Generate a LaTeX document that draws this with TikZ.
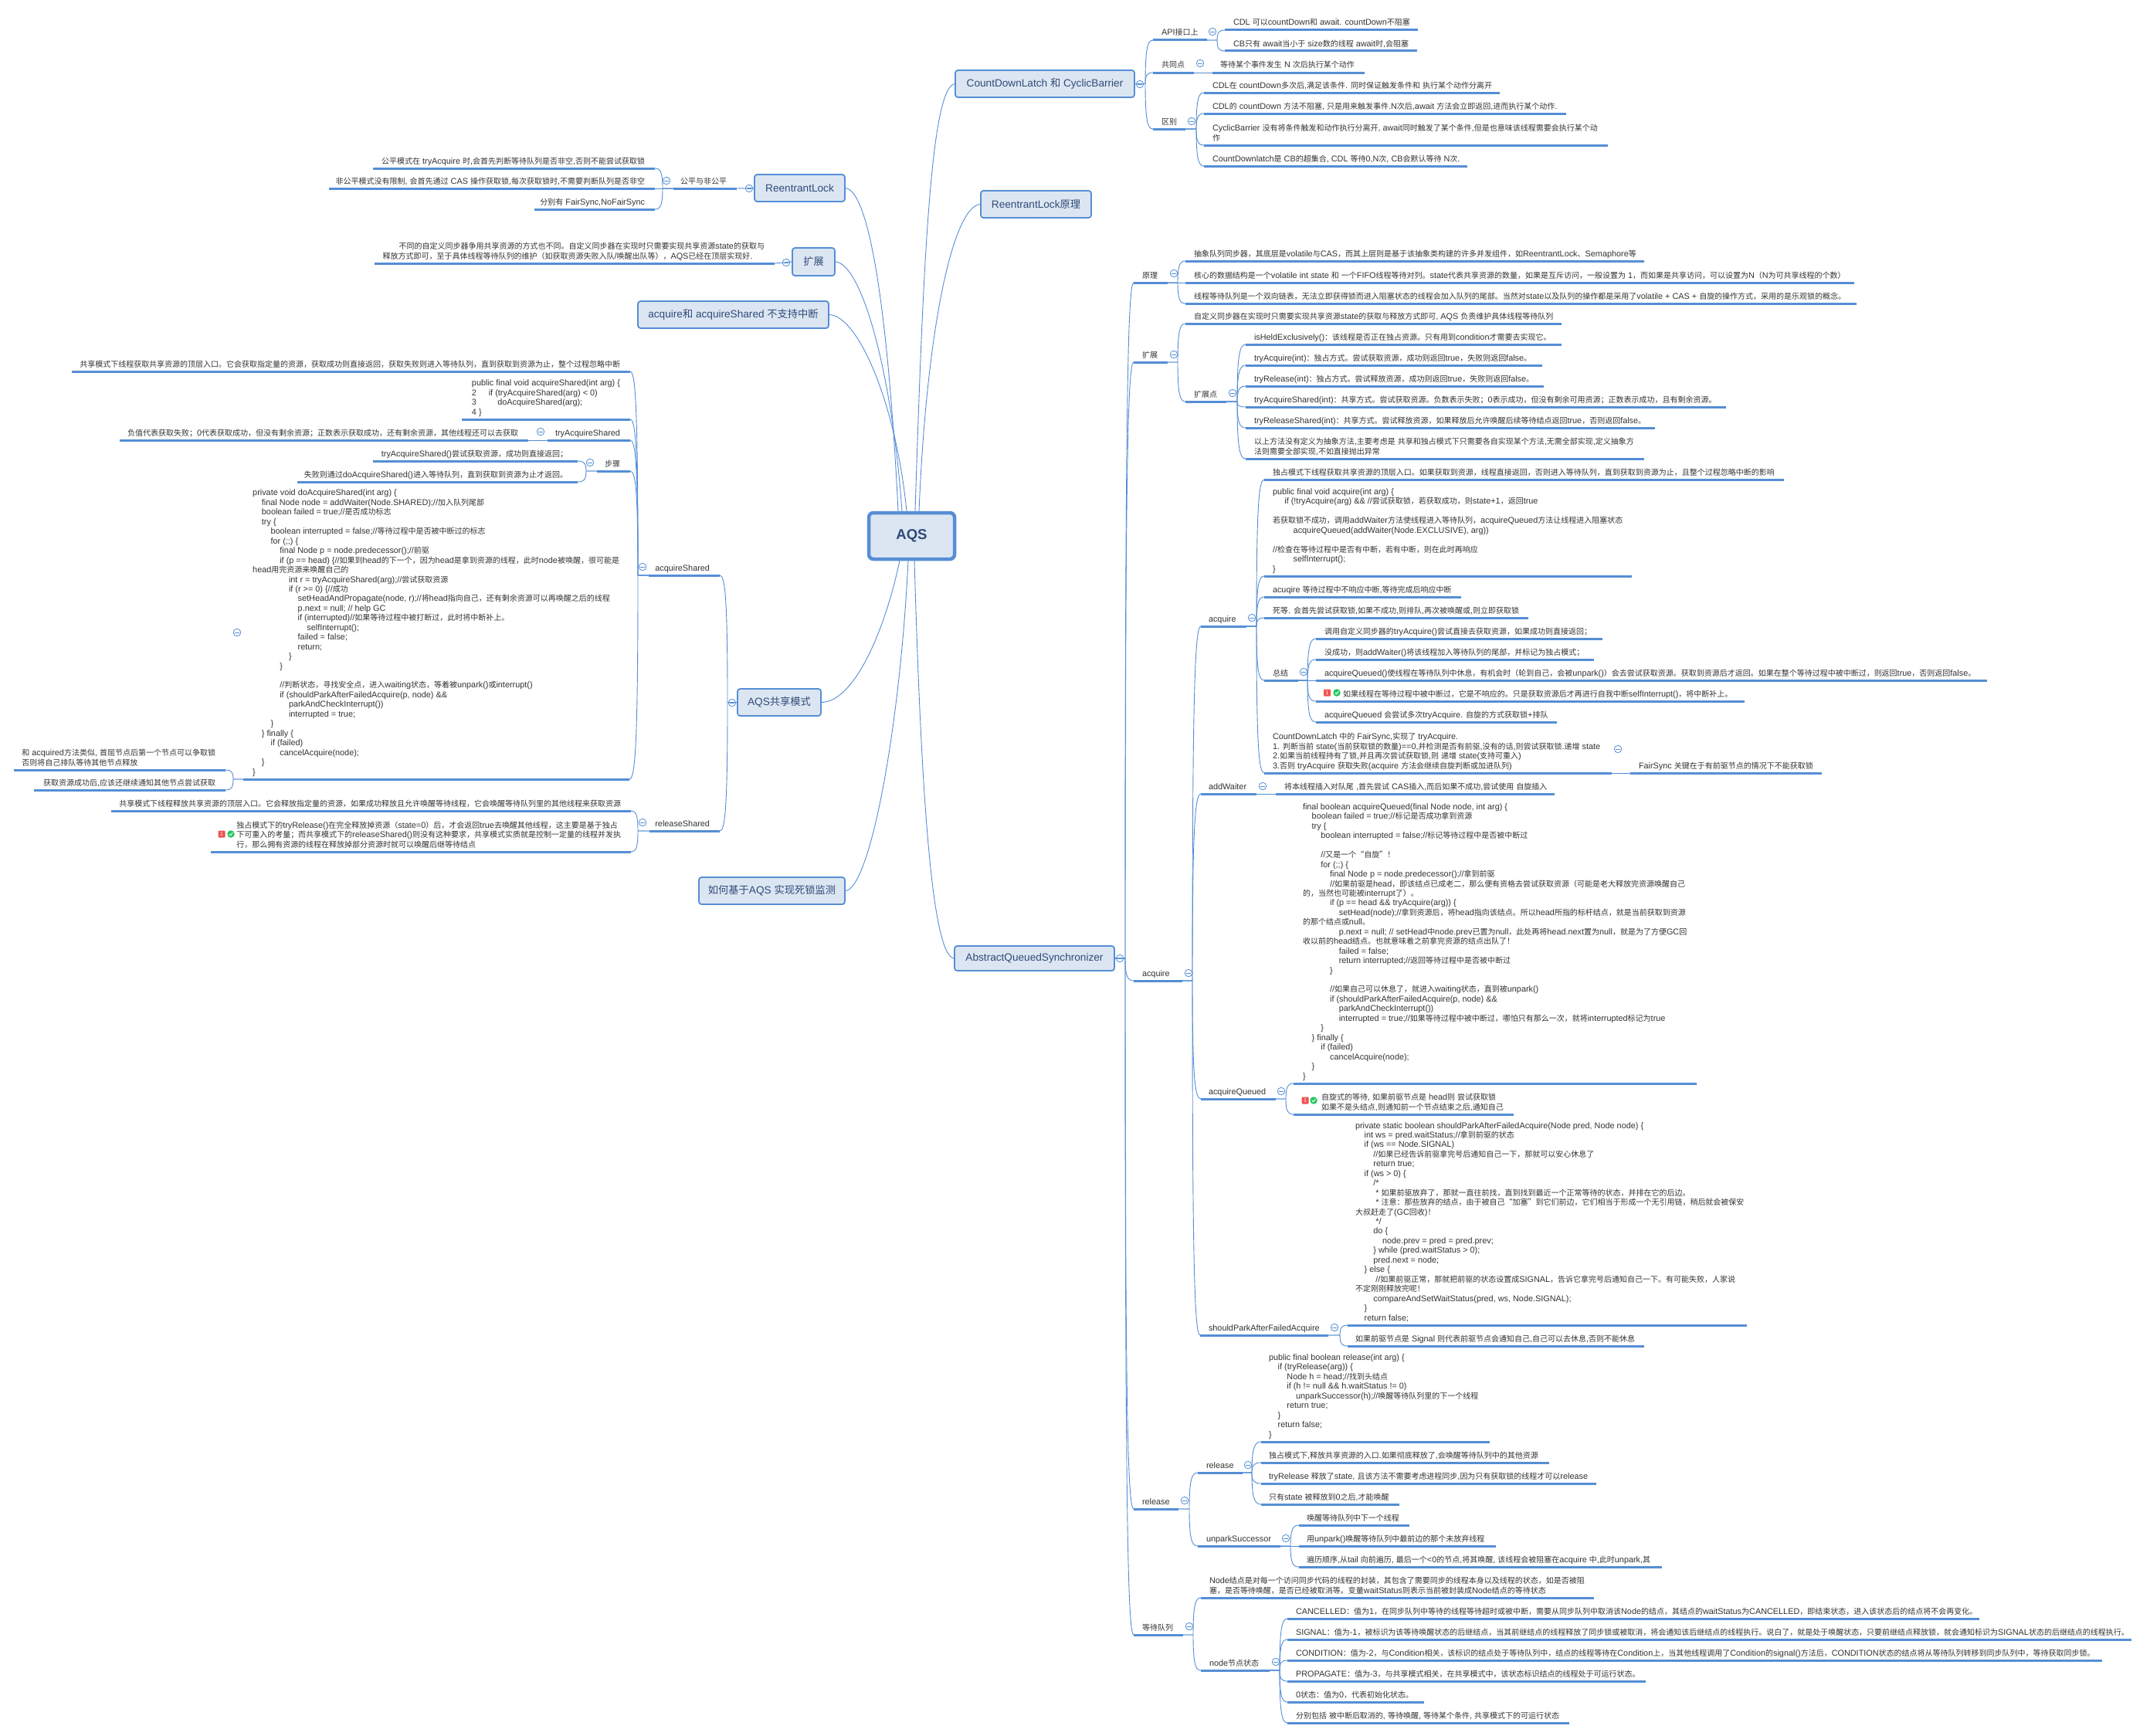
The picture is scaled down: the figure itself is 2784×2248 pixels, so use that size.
\documentclass[tikz,border=0pt]{standalone}
\usepackage{fontspec}
\usetikzlibrary{calc}
\setmainfont[Scale=1.065]{Liberation Sans}
\newfontfamily\cjksmall[Scale=0.98]{Noto Sans CJK SC}
\newfontfamily\cjkbig[Scale=1.035]{Noto Sans CJK SC}
\let\cjkfont\cjksmall
\newXeTeXintercharclass\cjkclass
\newcount\cc
\cc="4E00 \loop \XeTeXcharclass\cc=\cjkclass \advance\cc by 1 \ifnum\cc<"A000 \repeat
\cc="3000 \loop \XeTeXcharclass\cc=\cjkclass \advance\cc by 1 \ifnum\cc<"3040 \repeat
\cc="FF00 \loop \XeTeXcharclass\cc=\cjkclass \advance\cc by 1 \ifnum\cc<"FFF0 \repeat
\XeTeXcharclass"201C=\cjkclass \XeTeXcharclass"201D=\cjkclass
\XeTeXinterchartokenstate=1
\XeTeXinterchartoks 0 \cjkclass={\cjkfont}
\XeTeXinterchartoks 4095 \cjkclass={\cjkfont}
\XeTeXinterchartoks \cjkclass 0={\rmfamily}
\XeTeXinterchartoks \cjkclass 4095={\rmfamily}
\definecolor{mmblue}{HTML}{558ED5}
\definecolor{mmfill}{HTML}{DCE6F2}
\definecolor{mmtext}{HTML}{2F4A78}
\definecolor{mmink}{HTML}{333333}
\definecolor{mmred}{HTML}{EF5350}
\definecolor{mmgreen}{HTML}{22C55E}
\tikzset{
  txt/.style={inner sep=0pt,outer sep=0pt,text=mmink,
    font=\fontsize{10.2}{12.45}\selectfont\setbox\strutbox\hbox{\vrule height 9.25pt depth 3.2pt width 0pt}},
  barline/.style={draw=mmblue,line width=3pt},
  conn/.style={draw=mmblue,line width=0.9pt},
  mainb/.style={draw=mmblue,line width=1.8pt,fill=mmfill,rounded corners=3.5pt,inner sep=0pt,outer sep=0pt,
    text=mmtext,font=\let\cjkfont\cjkbig\fontsize{12.8}{16}\selectfont},
  rootb/.style={mainb,line width=4.5pt,rounded corners=6pt,font=\fontsize{17.4}{20}\selectfont\bfseries},
  collapse/.style={circle,draw=mmblue,line width=0.8pt,fill=white,minimum size=9.5pt,inner sep=0pt,
    path picture={\draw[mmblue,line width=0.8pt] (-2.6pt,0)--(2.6pt,0);}},
  badge/.style={fill=mmred,rounded corners=1pt,minimum width=9pt,minimum height=9pt,inner sep=0pt,text=white,
    font=\fontsize{6.6}{8}\selectfont},
  okdot/.style={circle,fill=mmgreen,minimum size=9.5pt,inner sep=0pt,
    path picture={\draw[white,line width=1pt] (-2.2pt,0)--(-0.5pt,-1.7pt)--(2.3pt,1.8pt);}},
}
\newcommand\Ind[1]{\hspace*{\dimexpr 11.7pt*#1\relax}}
% right-hand topic: name, bar x1, bar x2, bar y, text x, text
\newcommand\topic[6]{%
  \node[txt,anchor=base west] (#1) at (#5,#4-6) {\begin{tabular}[b]{@{}l@{}}#6\end{tabular}};
  \coordinate (#1-l) at (#2,#4);
  \coordinate (#1-r) at (#3,#4);
  \draw[barline] (#1-l)--(#1-r);}
% left-hand topic: text ends 13 before the bar's right end
\newcommand\topicL[5]{%
  \node[txt,anchor=base east] (#1) at (#3-13,#4-6) {\begin{tabular}[b]{@{}l@{}}#5\end{tabular}};
  \coordinate (#1-l) at (#2,#4);
  \coordinate (#1-r) at (#3,#4);
  \draw[barline] (#1-l)--(#1-r);}
\newcommand\mainbox[7][mainb]{%
  \node[#1,minimum width=#4-#3,minimum height=#6-#5] (#2) at ({(#3+#4)/2},{(#5+#6)/2}) {#7};}
\newcommand\link[3]{%
  \draw[conn] let \p1=(#1),\p2=(#3) in (\p1) -- (#2pt,\y1)
    .. controls (#2pt,{\y1+0.82*(\y2-\y1)}) and ({#2pt+0.3*(\x2-#2pt)},\y2) .. (\p2);}
\newcommand\coll[3]{\node[collapse] (#1) at (#2,#3) {};}
\newcommand\icons[4]{%
  \node[badge] (#1-b) at (#2,#4) {1};
  \node[okdot] (#1-k) at (#3,#4) {};}
\begin{document}
\begin{tikzpicture}[x=1pt,y=-1pt]
\useasboundingbox (0,0) rectangle (2784,2248);
\fill[white] (0,0) rectangle (2784,2248);
% main boxes
\mainbox[rootb]{aqs}{1125}{1236}{664}{724}{AQS}
\mainbox{cdlb}{1237}{1469}{91}{126}{CountDownLatch 和 CyclicBarrier}
\mainbox{rlp}{1270}{1413}{247}{282}{ReentrantLock原理}
\mainbox{aqn}{1236}{1443}{1225}{1257}{AbstractQueuedSynchronizer}
\mainbox{rl}{977}{1094}{226}{261}{ReentrantLock}
\mainbox{ext}{1026}{1081}{321}{357}{扩展}
\mainbox{noint}{826}{1073}{390}{425}{acquire和 acquireShared 不支持中断}
\mainbox{share}{955}{1063}{892}{927}{AQS共享模式}
\mainbox{dead}{905}{1094}{1136}{1171}{如何基于AQS 实现死锁监测}
% root connectors
\coordinate (t1) at (1163,662); \coordinate (t2) at (1168,662); \coordinate (t3) at (1174,662);
\coordinate (t4) at (1185,662); \coordinate (t5) at (1190,662);
\coordinate (b1) at (1165,726); \coordinate (b2) at (1176,726); \coordinate (b3) at (1184,726);
\draw[conn] (t1) .. controls (1150,400) and (1125,244) .. (rl.east);
\draw[conn] (t2) .. controls (1155,480) and (1115,339) .. (ext.east);
\draw[conn] (t3) .. controls (1160,520) and (1110,407) .. (noint.east);
\draw[conn] (t4) .. controls (1195,350) and (1205,109) .. (cdlb.west);
\draw[conn] (t5) .. controls (1200,420) and (1235,265) .. (rlp.west);
\draw[conn] (b1) .. controls (1145,820) and (1105,910) .. (share.east);
\draw[conn] (b2) .. controls (1165,950) and (1125,1155) .. (dead.east);
\draw[conn] (b3) .. controls (1192,1000) and (1205,1241) .. (aqn.west);
% ---- CountDownLatch
\topic{api}{1493}{1563}{52}{1504}{API接口上}
\topic{api1}{1586}{1836}{39}{1597}{CDL 可以countDown和 await. countDown不阻塞}
\topic{api2}{1586}{1835}{66}{1597}{CB只有 await当小于 size数的线程 await时,会阻塞}
\topic{com}{1493}{1546}{94}{1504}{共同点}
\topic{com1}{1570}{1767}{94}{1580}{等待某个事件发生 N 次后执行某个动作}
\topic{dif}{1493}{1535}{167}{1504}{区别}
\topic{dif1}{1559}{1942}{120}{1570}{CDL在 countDown多次后,满足该条件. 同时保证触发条件和 执行某个动作分离开}
\topic{dif2}{1559}{2028}{147}{1570}{CDL的 countDown 方法不阻塞, 只是用来触发事件.N次后,await 方法会立即返回,进而执行某个动作.}
\topic{dif3}{1559}{2082}{188}{1570}{CyclicBarrier 没有将条件触发和动作执行分离开, await同时触发了某个条件,但是也意味该线程需要会执行某个动\\作}
\topic{dif4}{1559}{1900}{215}{1570}{CountDownlatch是 CB的超集合, CDL 等待0,N次, CB会默认等待 N次.}
\coll{c-cdl}{1476}{109}\coll{c-api}{1570}{41}\coll{c-com}{1554}{82}\coll{c-dif}{1543}{157}
\link{cdlb.east}{1483}{api-l}\link{cdlb.east}{1483}{com-l}\link{cdlb.east}{1483}{dif-l}
\link{api-r}{1576}{api1-l}\link{api-r}{1576}{api2-l}
\draw[conn] (com-r)--(com1-l);
\link{dif-r}{1549}{dif1-l}\link{dif-r}{1549}{dif2-l}\link{dif-r}{1549}{dif3-l}\link{dif-r}{1549}{dif4-l}
% ---- AbstractQueuedSynchronizer
\coll{c-aqn}{1450}{1241}
\topic{yl}{1468}{1512}{366}{1479}{原理}
\topic{yl1}{1535}{2129}{338}{1546}{抽象队列同步器，其底层是volatile与CAS，而其上层则是基于该抽象类构建的许多并发组件，如ReentrantLock、Semaphore等}
\topic{yl2}{1535}{2401}{366}{1546}{核心的数据结构是一个volatile int state 和 一个FIFO线程等待对列。state代表共享资源的数量，如果是互斥访问，一般设置为 1，而如果是共享访问，可以设置为N（N为可共享线程的个数）}
\topic{yl3}{1535}{2404}{393}{1546}{线程等待队列是一个双向链表，无法立即获得锁而进入阻塞状态的线程会加入队列的尾部。当然对state以及队列的操作都是采用了volatile + CAS + 自旋的操作方式，采用的是乐观锁的概念。}
\coll{c-yl}{1520}{354}
\link{yl-r}{1525}{yl1-l}\draw[conn] (yl-r)--(yl2-l);\link{yl-r}{1525}{yl3-l}
\topic{kz}{1468}{1512}{469}{1479}{扩展}
\topic{kz1}{1535}{2022}{419}{1546}{自定义同步器在实现时只需要实现共享资源state的获取与释放方式即可, AQS 负责维护具体线程等待队列}
\topic{kzd}{1535}{1588}{520}{1546}{扩展点}
\topic{kzd1}{1613}{2022}{446}{1624}{isHeldExclusively()：该线程是否正在独占资源。只有用到condition才需要去实现它。}
\topic{kzd2}{1613}{1997}{473}{1624}{tryAcquire(int)：独占方式。尝试获取资源，成功则返回true，失败则返回false。}
\topic{kzd3}{1613}{1999}{500}{1624}{tryRelease(int)：独占方式。尝试释放资源，成功则返回true，失败则返回false。}
\topic{kzd4}{1613}{2235}{527}{1624}{tryAcquireShared(int)：共享方式。尝试获取资源。负数表示失败；0表示成功，但没有剩余可用资源；正数表示成功，且有剩余资源。}
\topic{kzd5}{1613}{2143}{554}{1624}{tryReleaseShared(int)：共享方式。尝试释放资源，如果释放后允许唤醒后续等待结点返回true，否则返回false。}
\topic{kzd6}{1613}{2129}{594}{1624}{以上方法没有定义为抽象方法,主要考虑是 共享和独占模式下只需要各自实现某个方法,无需全部实现,定义抽象方\\法则需要全部实现,不如直接抛出异常}
\coll{c-kz}{1520}{459}\coll{c-kzd}{1596}{509}
\link{kz-r}{1525}{kz1-l}\link{kz-r}{1525}{kzd-l}
\link{kzd-r}{1602}{kzd1-l}\link{kzd-r}{1602}{kzd2-l}\link{kzd-r}{1602}{kzd3-l}\link{kzd-r}{1602}{kzd4-l}\link{kzd-r}{1602}{kzd5-l}\link{kzd-r}{1602}{kzd6-l}
% acquire group
\topic{acq}{1468}{1531}{1270}{1479}{acquire}
\topic{ac}{1555}{1614}{811}{1565}{acquire}
\topic{ac1}{1637}{2310}{621}{1648}{独占模式下线程获取共享资源的顶层入口。如果获取到资源，线程直接返回，否则进入等待队列，直到获取到资源为止，且整个过程忽略中断的影响}
\topic{ac2}{1637}{2113}{746}{1648}{public final void acquire(int arg) \{\\\hspace*{15.4pt}if (!tryAcquire(arg) \&\& //尝试获取锁，若获取成功，则state+1，返回true\\ \\若获取锁不成功，调用addWaiter方法使线程进入等待队列，acquireQueued方法让线程进入阻塞状态\\\hspace*{26.7pt}acquireQueued(addWaiter(Node.EXCLUSIVE), arg))\\ \\//检查在等待过程中是否有中断，若有中断，则在此时再响应\\\hspace*{26.7pt}selfInterrupt();\\\}}
\topic{ac3}{1637}{1892}{773}{1648}{acuqire 等待过程中不响应中断,等待完成后响应中断}
\topic{ac4}{1637}{1979}{800}{1648}{死等. 会首先尝试获取锁,如果不成功,则排队,再次被唤醒或,则立即获取锁}
\topic{zj}{1637}{1681}{881}{1648}{总结}
\topic{zj1}{1704}{2075}{827}{1715}{调用自定义同步器的tryAcquire()尝试直接去获取资源，如果成功则直接返回；}
\topic{zj2}{1704}{2064}{854}{1715}{没成功，则addWaiter()将该线程加入等待队列的尾部，并标记为独占模式；}
\topic{zj3}{1704}{2573}{881}{1715}{acquireQueued()使线程在等待队列中休息，有机会时（轮到自己，会被unpark()）会去尝试获取资源。获取到资源后才返回。如果在整个等待过程中被中断过，则返回true，否则返回false。}
\topic{zj4}{1704}{2259}{908}{1739}{如果线程在等待过程中被中断过，它是不响应的。只是获取资源后才再进行自我中断selfInterrupt()，将中断补上。}
\icons{i1}{1718.5}{1731}{897}
\topic{zj5}{1704}{2016}{935}{1715}{acquireQueued 会尝试多次tryAcquire. 自旋的方式获取锁+排队}
\topic{ac6}{1637}{2087}{1001}{1648}{CountDownLatch 中的 FairSync,实现了 tryAcquire.\\1. 判断当前 state(当前获取锁的数量)==0,并检测是否有前驱,没有的话,则尝试获取锁.递增 state\\2.如果当前线程持有了锁,并且再次尝试获取锁,则 递增 state(支持可重入)\\3.否则 tryAcquire 获取失败(acquire 方法会继续自旋判断或加进队列)}
\topic{fs}{2111}{2359}{1001}{2122}{FairSync 关键在于有前驱节点的情况下不能获取锁}
\coll{c-acq}{1539}{1260}\coll{c-ac}{1621}{800}\coll{c-zj}{1688}{870}\coll{c-ac6}{2095}{970}
\link{ac-r}{1627}{ac1-l}\link{ac-r}{1627}{ac2-l}\link{ac-r}{1627}{ac3-l}\link{ac-r}{1627}{ac4-l}\link{ac-r}{1627}{zj-l}\link{ac-r}{1627}{ac6-l}
\link{zj-r}{1693}{zj1-l}\link{zj-r}{1693}{zj2-l}\draw[conn] (zj-r)--(zj3-l);\link{zj-r}{1693}{zj4-l}\link{zj-r}{1693}{zj5-l}
\draw[conn] (ac6-r)--(fs-l);
\topic{aw}{1555}{1627}{1028}{1565}{addWaiter}
\topic{aw1}{1652}{2013}{1028}{1663}{将本线程插入对队尾 ,首先尝试 CAS插入,而后如果不成功,尝试使用 自旋插入}
\coll{c-aw}{1635}{1018}
\draw[conn] (aw-r)--(aw1-l);
\topic{aqd}{1555}{1652}{1423}{1565}{acquireQueued}
\topic{aqd1}{1675}{2197}{1403}{1687}{final boolean acquireQueued(final Node node, int arg) \{\\\Ind{1}boolean failed = true;//标记是否成功拿到资源\\\Ind{1}try \{\\\Ind{2}boolean interrupted = false;//标记等待过程中是否被中断过\\ \\\Ind{2}//又是一个“自旋”！\\\Ind{2}for (;;) \{\\\Ind{3}final Node p = node.predecessor();//拿到前驱\\\Ind{3}//如果前驱是head，即该结点已成老二，那么便有资格去尝试获取资源（可能是老大释放完资源唤醒自己\\的，当然也可能被interrupt了）。\\\Ind{3}if (p == head \&\& tryAcquire(arg)) \{\\\Ind{4}setHead(node);//拿到资源后，将head指向该结点。所以head所指的标杆结点，就是当前获取到资源\\的那个结点或null。\\\Ind{4}p.next = null; // setHead中node.prev已置为null，此处再将head.next置为null，就是为了方便GC回\\收以前的head结点。也就意味着之前拿完资源的结点出队了！\\\Ind{4}failed = false;\\\Ind{4}return interrupted;//返回等待过程中是否被中断过\\\Ind{3}\}\\ \\\Ind{3}//如果自己可以休息了，就进入waiting状态，直到被unpark()\\\Ind{3}if (shouldParkAfterFailedAcquire(p, node) \&\&\\\Ind{4}parkAndCheckInterrupt())\\\Ind{4}interrupted = true;//如果等待过程中被中断过，哪怕只有那么一次，就将interrupted标记为true\\\Ind{2}\}\\\Ind{1}\} finally \{\\\Ind{2}if (failed)\\\Ind{3}cancelAcquire(node);\\\Ind{1}\}\\\}}
\topic{aqd2}{1675}{1960}{1443}{1711}{自旋式的等待, 如果前驱节点是 head则 尝试获取锁\\如果不是头结点,则通知前一个节点结束之后,通知自己}
\icons{i2}{1690}{1701}{1425}
\coll{c-aqd}{1659}{1413}
\link{aqd-r}{1665}{aqd1-l}\link{aqd-r}{1665}{aqd2-l}
\topic{sp}{1554}{1720}{1729}{1565}{shouldParkAfterFailedAcquire}
\topic{sp1}{1745}{2262}{1716}{1755}{private static boolean shouldParkAfterFailedAcquire(Node pred, Node node) \{\\\Ind{1}int ws = pred.waitStatus;//拿到前驱的状态\\\Ind{1}if (ws == Node.SIGNAL)\\\Ind{2}//如果已经告诉前驱拿完号后通知自己一下，那就可以安心休息了\\\Ind{2}return true;\\\Ind{1}if (ws > 0) \{\\\Ind{2}/*\\\hspace*{26.4pt}* 如果前驱放弃了，那就一直往前找，直到找到最近一个正常等待的状态，并排在它的后边。\\\hspace*{26.4pt}* 注意：那些放弃的结点，由于被自己“加塞”到它们前边，它们相当于形成一个无引用链，稍后就会被保安\\大叔赶走了(GC回收)！\\\hspace*{26.4pt}*/\\\Ind{2}do \{\\\Ind{3}node.prev = pred = pred.prev;\\\Ind{2}\} while (pred.waitStatus > 0);\\\Ind{2}pred.next = node;\\\Ind{1}\} else \{\\\hspace*{26.4pt}//如果前驱正常，那就把前驱的状态设置成SIGNAL，告诉它拿完号后通知自己一下。有可能失败，人家说\\不定刚刚释放完呢！\\\Ind{2}compareAndSetWaitStatus(pred, ws, Node.SIGNAL);\\\Ind{1}\}\\\Ind{1}return false;}
\topic{sp2}{1745}{2129}{1743}{1755}{如果前驱节点是 Signal 则代表前驱节点会通知自己,自己可以去休息,否则不能休息}
\coll{c-sp}{1728}{1719}
\link{sp-r}{1735}{sp1-l}\link{sp-r}{1735}{sp2-l}
\link{acq-r}{1544}{ac-l}\link{acq-r}{1544}{aw-l}\link{acq-r}{1544}{aqd-l}\link{acq-r}{1544}{sp-l}
% release group
\topic{rel}{1468}{1526}{1954}{1479}{release}
\topic{re}{1551}{1609}{1907}{1562}{release}
\topic{re1}{1633}{1929}{1867}{1643}{public final boolean release(int arg) \{\\\Ind{1}if (tryRelease(arg)) \{\\\Ind{2}Node h = head;//找到头结点\\\Ind{2}if (h != null \&\& h.waitStatus != 0)\\\Ind{3}unparkSuccessor(h);//唤醒等待队列里的下一个线程\\\Ind{2}return true;\\\Ind{1}\}\\\Ind{1}return false;\\\}}
\topic{re2}{1633}{2006}{1894}{1643}{独占模式下,释放共享资源的入口.如果彻底释放了,会唤醒等待队列中的其他资源}
\topic{re3}{1633}{2067}{1921}{1643}{tryRelease 释放了state, 且该方法不需要考虑进程同步,因为只有获取锁的线程才可以release}
\topic{re4}{1633}{1812}{1948}{1643}{只有state 被释放到0之后,才能唤醒}
\topic{un}{1551}{1658}{2002}{1562}{unparkSuccessor}
\topic{un1}{1682}{1825}{1975}{1692}{唤醒等待队列中下一个线程}
\topic{un2}{1682}{1937}{2002}{1692}{用unpark()唤醒等待队列中最前边的那个未放弃线程}
\topic{un3}{1682}{2152}{2029}{1692}{遍历顺序,从tail 向前遍历, 最后一个<0的节点,将其唤醒, 该线程会被阻塞在acquire 中,此时unpark,其}
\coll{c-rel}{1534}{1943}\coll{c-re}{1616}{1897}\coll{c-un}{1665}{1992}
\link{rel-r}{1540}{re-l}\link{rel-r}{1540}{un-l}
\link{re-r}{1621}{re1-l}\link{re-r}{1621}{re2-l}\link{re-r}{1621}{re3-l}\link{re-r}{1621}{re4-l}
\link{un-r}{1671}{un1-l}\draw[conn] (un-r)--(un2-l);\link{un-r}{1671}{un3-l}
% queue group
\topic{dl}{1468}{1532}{2117}{1479}{等待队列}
\topic{dl1}{1555}{2064}{2069}{1566}{Node结点是对每一个访问同步代码的线程的封装，其包含了需要同步的线程本身以及线程的状态，如是否被阻\\塞，是否等待唤醒，是否已经被取消等。变量waitStatus则表示当前被封装成Node结点的等待状态}
\topic{ns}{1555}{1644}{2163}{1566}{node节点状态}
\topic{ns1}{1667}{2563}{2096}{1678}{CANCELLED：值为1，在同步队列中等待的线程等待超时或被中断，需要从同步队列中取消该Node的结点，其结点的waitStatus为CANCELLED，即结束状态，进入该状态后的结点将不会再变化。}
\topic{ns2}{1667}{2760}{2123}{1678}{SIGNAL：值为-1，被标识为该等待唤醒状态的后继结点，当其前继结点的线程释放了同步锁或被取消，将会通知该后继结点的线程执行。说白了，就是处于唤醒状态，只要前继结点释放锁，就会通知标识为SIGNAL状态的后继结点的线程执行。}
\topic{ns3}{1667}{2722}{2150}{1678}{CONDITION：值为-2，与Condition相关，该标识的结点处于等待队列中，结点的线程等待在Condition上，当其他线程调用了Condition的signal()方法后，CONDITION状态的结点将从等待队列转移到同步队列中，等待获取同步锁。}
\topic{ns4}{1667}{2131}{2177}{1678}{PROPAGATE：值为-3，与共享模式相关，在共享模式中，该状态标识结点的线程处于可运行状态。}
\topic{ns5}{1667}{1844}{2204}{1678}{0状态：值为0，代表初始化状态。}
\topic{ns6}{1667}{2032}{2231}{1678}{分别包括 被中断后取消的, 等待唤醒, 等待某个条件, 共享模式下的可运行状态}
\coll{c-dl}{1540}{2106}\coll{c-ns}{1652}{2152}
\link{dl-r}{1545}{dl1-l}\link{dl-r}{1545}{ns-l}
\link{ns-r}{1657}{ns1-l}\link{ns-r}{1657}{ns2-l}\link{ns-r}{1657}{ns3-l}\link{ns-r}{1657}{ns4-l}\link{ns-r}{1657}{ns5-l}\link{ns-r}{1657}{ns6-l}
\link{aqn.east}{1457}{yl-l}\link{aqn.east}{1457}{kz-l}\link{aqn.east}{1457}{acq-l}\link{aqn.east}{1457}{rel-l}\link{aqn.east}{1457}{dl-l}
% ---- left side: ReentrantLock
\topicL{fair}{872}{954}{244}{公平与非公平}
\topicL{fair1}{483}{848}{218}{公平模式在 tryAcquire 时,会首先判断等待队列是否非空,否则不能尝试获取锁}
\topicL{fair2}{426}{848}{244}{非公平模式没有限制, 会首先通过 CAS 操作获取锁,每次获取锁时,不需要判断队列是否非空}
\topicL{fair3}{692}{848}{271}{分别有 FairSync,NoFairSync}
\coll{c-rl}{970}{244}\coll{c-fair}{863}{234}
\draw[conn] (rl.west)--(fair-r);
\link{fair-l}{858}{fair1-r}\draw[conn] (fair-l)--(fair2-r);\link{fair-l}{858}{fair3-r}
% 扩展
\topicL{ext1}{485}{1003}{341}{\hspace*{21pt}不同的自定义同步器争用共享资源的方式也不同。自定义同步器在实现时只需要实现共享资源state的获取与\\释放方式即可，至于具体线程等待队列的维护（如获取资源失败入队/唤醒出队等），AQS已经在顶层实现好.}
\coll{c-ext}{1018}{340}
\draw[conn] (ext.west)--(ext1-r);
% AQS共享模式
\coll{c-share}{948}{910}
\topicL{as}{840}{932}{745}{acquireShared}
\topicL{rs}{841}{932}{1076}{releaseShared}
\coll{c-as}{832}{734}\coll{c-rs}{832}{1065}
\link{share.west}{942}{as-r}\link{share.west}{942}{rs-r}
\topicL{as1}{93}{816}{481}{共享模式下线程获取共享资源的顶层入口。它会获取指定量的资源，获取成功则直接返回，获取失败则进入等待队列，直到获取到资源为止，整个过程忽略中断}
\topicL{as2}{598}{816}{543}{public final void acquireShared(int arg) \{\\2\hspace*{15.8pt}if (tryAcquireShared(arg) < 0)\\3\hspace*{27.3pt}doAcquireShared(arg);\\4 \}}
\topicL{tas}{709}{816}{570}{tryAcquireShared}
\topicL{tas1}{155}{684}{570}{负值代表获取失败；0代表获取成功，但没有剩余资源；正数表示获取成功，还有剩余资源，其他线程还可以去获取}
\topicL{bz}{773}{816}{610}{步骤}
\topicL{bz1}{483}{748}{597}{tryAcquireShared()尝试获取资源，成功则直接返回；}
\topicL{bz2}{385}{748}{624}{失败则通过doAcquireShared()进入等待队列，直到获取到资源为止才返回。}
\topicL{das}{315}{815}{1009}{private void doAcquireShared(int arg) \{\\\Ind{1}final Node node = addWaiter(Node.SHARED);//加入队列尾部\\\Ind{1}boolean failed = true;//是否成功标志\\\Ind{1}try \{\\\Ind{2}boolean interrupted = false;//等待过程中是否被中断过的标志\\\Ind{2}for (;;) \{\\\Ind{3}final Node p = node.predecessor();//前驱\\\Ind{3}if (p == head) \{//如果到head的下一个，因为head是拿到资源的线程，此时node被唤醒，很可能是\\head用完资源来唤醒自己的\\\Ind{4}int r = tryAcquireShared(arg);//尝试获取资源\\\Ind{4}if (r >= 0) \{//成功\\\Ind{5}setHeadAndPropagate(node, r);//将head指向自己，还有剩余资源可以再唤醒之后的线程\\\Ind{5}p.next = null; // help GC\\\Ind{5}if (interrupted)//如果等待过程中被打断过，此时将中断补上。\\\Ind{6}selfInterrupt();\\\Ind{5}failed = false;\\\Ind{5}return;\\\Ind{4}\}\\\Ind{3}\}\\ \\\Ind{3}//判断状态，寻找安全点，进入waiting状态，等着被unpark()或interrupt()\\\Ind{3}if (shouldParkAfterFailedAcquire(p, node) \&\&\\\Ind{4}parkAndCheckInterrupt())\\\Ind{4}interrupted = true;\\\Ind{2}\}\\\Ind{1}\} finally \{\\\Ind{2}if (failed)\\\Ind{3}cancelAcquire(node);\\\Ind{1}\}\\\}}
\topicL{das1}{18}{292}{997}{和 acquired方法类似, 首屈节点后第一个节点可以争取锁\\否则将自己排队等待其他节点释放\\ }
\topicL{das2}{44}{292}{1023}{获取资源成功后,应该还继续通知其他节点尝试获取}
\coll{c-tas}{700}{559}\coll{c-bz}{764}{599}\coll{c-das}{307}{819}
\link{as-l}{826}{as1-r}\link{as-l}{826}{as2-r}\link{as-l}{826}{tas-r}\link{as-l}{826}{bz-r}\link{as-l}{826}{das-r}
\draw[conn] (tas-l)--(tas1-r);
\link{bz-l}{759}{bz1-r}\link{bz-l}{759}{bz2-r}
\link{das-l}{302}{das1-r}\link{das-l}{302}{das2-r}
\topicL{rs1}{144}{817}{1050}{共享模式下线程释放共享资源的顶层入口。它会释放指定量的资源，如果成功释放且允许唤醒等待线程，它会唤醒等待队列里的其他线程来获取资源}
\topicL{rs2}{273}{817}{1103}{独占模式下的tryRelease()在完全释放掉资源（state=0）后，才会返回true去唤醒其他线程，这主要是基于独占\\下可重入的考量；而共享模式下的releaseShared()则没有这种要求，共享模式实质就是控制一定量的线程并发执\\行，那么拥有资源的线程在释放掉部分资源时就可以唤醒后继等待结点}
\icons{i3}{287}{299}{1080}
\link{rs-l}{826}{rs1-r}\link{rs-l}{826}{rs2-r}
\end{tikzpicture}
\end{document}
